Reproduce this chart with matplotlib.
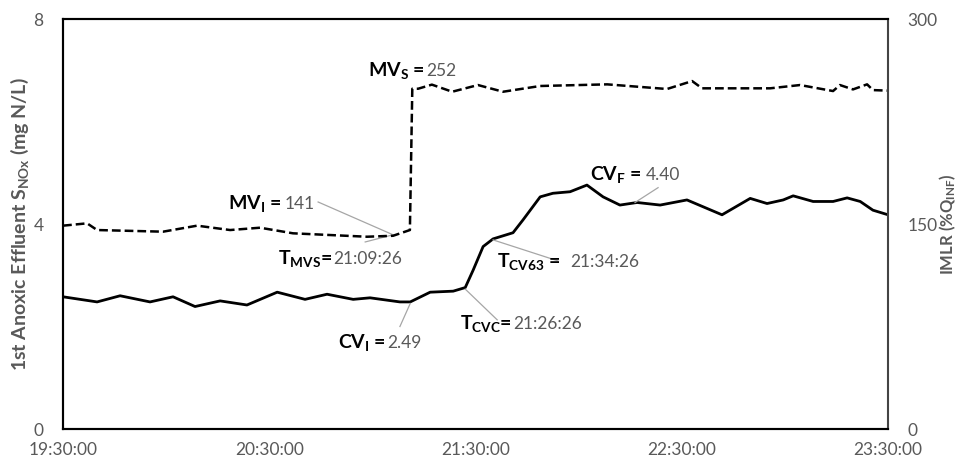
import numpy as np
import matplotlib
matplotlib.use('Agg')
import matplotlib.pyplot as plt

plt.rcParams['font.family'] = ['Lato', 'DejaVu Sans']
plt.rcParams['mathtext.fontset'] = 'custom'
plt.rcParams['mathtext.rm'] = 'Lato'
plt.rcParams['mathtext.bf'] = 'Lato:bold'
plt.rcParams['mathtext.it'] = 'Lato:italic'

# tiempos en minutos desde las 19:30:00
cv_min = [0, 9.9, 16.6, 25.3, 32, 38.4, 45.7, 53.5, 62.3, 70.4, 76.8, 84.4, 89.3, 98, 101,
          106.8, 113.5, 117, 119.3, 122.2, 125.1, 130.9, 133.8, 138.8, 142.5, 147.5, 152.4,
          157.1, 162, 167, 173.7, 181.5, 191.7, 199.9, 204.8, 209.5, 212.4, 218.2, 224,
          228.1, 231.9, 235.6, 240]
cv_val = [2.58, 2.48, 2.60, 2.48, 2.58, 2.39, 2.50, 2.42, 2.67, 2.53, 2.63, 2.53, 2.56, 2.48, 2.48,
          2.67, 2.69, 2.76, 3.10, 3.56, 3.71, 3.83, 4.08, 4.53, 4.60, 4.63, 4.76,
          4.53, 4.37, 4.42, 4.37, 4.47, 4.18, 4.50, 4.40, 4.47, 4.55, 4.44, 4.44,
          4.51, 4.44, 4.27, 4.18]

mv_min = [0, 7, 9.9, 29.1, 39, 48.6, 57.3, 66.9, 88.4, 96, 100.9, 101.6, 103.3, 107.3, 113.2,
          120.7, 128, 138.8, 158.3, 175.7, 183, 185.9, 205.7, 214.4, 224, 226, 229.8,
          233.9, 235.6, 240]
mv_val = [148.8, 150.5, 145.6, 144.4, 148.8, 145.6, 147.3, 143.2, 140.7, 141.4, 145.6, 249, 249,
          252, 246.8, 251.7, 246.8, 251, 252.2, 248.8, 254.6, 249.3, 249.3, 251.7, 247.3,
          251.7, 248.5, 252.2, 248, 247.6]

x_ticks = [0, 60, 120, 180, 240]
x_labels = ['19:30:00', '20:30:00', '21:30:00', '22:30:00', '23:30:00']
left_ticks = [0, 4, 8]
right_ticks = [0, 150, 300]

GRAY = '#595959'
LEADER = '#a6a6a6'

fig = plt.figure(figsize=(9.61, 4.63), dpi=100)
ax = fig.add_axes([0.0656, 0.0734, 0.8585, 0.8855])
ax2 = ax.twinx()

ax.plot(cv_min, cv_val, color='black', lw=2.0, solid_joinstyle='round')
ax2.plot(mv_min, mv_val, color='black', lw=1.8, dashes=(3.5, 1.6))

ax.set_xlim(0, 240)
ax.set_ylim(0, 8)
ax2.set_ylim(0, 300)
ax.set_xticks(x_ticks)
ax.set_xticklabels(x_labels)
ax.set_yticks(left_ticks)
ax2.set_yticks(right_ticks)

ax.tick_params(axis='x', length=0, pad=9, labelsize=12.5, labelcolor=GRAY)
ax.tick_params(axis='y', length=0, pad=14, labelsize=12.5, labelcolor=GRAY)
ax2.tick_params(axis='y', length=0, pad=14, labelsize=12.5, labelcolor=GRAY)

for s in ['left', 'bottom', 'top']:
    ax.spines[s].set_linewidth(1.5)
    ax2.spines[s].set_linewidth(1.5)
ax2.spines['right'].set_linewidth(1.5)
ax2.spines['right'].set_color('#444444')
ax.spines['right'].set_visible(False)

ax.set_ylabel(r'1st Anoxic Effluent S$_{\mathbf{NOx}}$ (mg N/L)', fontsize=14,
              fontweight='bold', color=GRAY, labelpad=2)
ax2.set_ylabel(r'IMLR (%Q$_{\mathbf{INF}}$)', fontsize=12, fontweight='bold',
               color=GRAY, labelpad=0)

# etiquetas: parte en negrita + valor en gris (posicion, separacion en puntos)
labels = [
    (r'$\mathbf{MV}_\mathbf{S}$ =', 88.7, 6.89, '252', 1),
    (r'$\mathbf{MV}_\mathbf{I}$ =', 48.0, 4.29, '141', 2),
    (r'$\mathbf{T}_\mathbf{MVS}$=', 62.5, 3.22, '21:09:26', 1),
    (r'$\mathbf{CV}_\mathbf{I}$ =', 80.0, 1.59, '2.49', 1),
    (r'$\mathbf{T}_\mathbf{CVC}$=', 115.5, 1.96, '21:26:26', 1),
    (r'$\mathbf{T}_\mathbf{CV63}$ =', 126.3, 3.17, '21:34:26', 7),
    (r'$\mathbf{CV}_\mathbf{F}$ =', 153.3, 4.86, '4.40', 3),
]
for bold, bx, by, num, gap in labels:
    t = ax.text(bx, by, bold, fontsize=14, fontweight='bold', color='black',
                ha='left', va='baseline')
    ax.annotate(num, xy=(1, by), xycoords=(t, 'data'), xytext=(gap, 0),
                textcoords='offset points', fontsize=12.5, color=GRAY,
                ha='left', va='baseline')

leaders = [
    ((74.2, 4.43), (96, 3.79)),
    ((87.9, 3.65), (96, 3.79)),
    ((98, 2.0), (101, 2.45)),
    ((117, 2.73), (126.3, 2.13)),
    ((125.1, 3.69), (144, 3.28)),
    ((166.4, 4.42), (173.1, 4.71)),
]
for p0, p1 in leaders:
    ax.plot([p0[0], p1[0]], [p0[1], p1[1]], color=LEADER, lw=0.9)

fig.savefig('out.png', dpi=100)
